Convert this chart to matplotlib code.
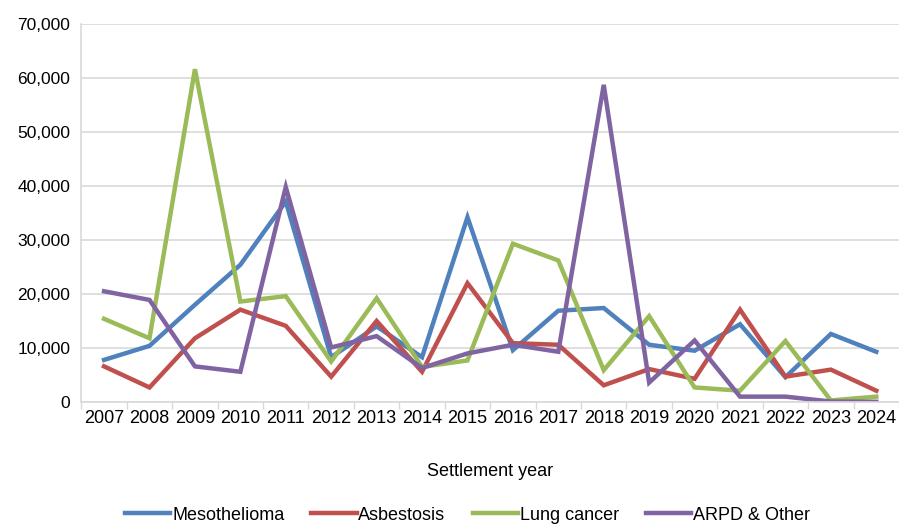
import numpy as np
import matplotlib.pyplot as plt
from matplotlib.ticker import FuncFormatter, MultipleLocator

plt.rcParams['font.family'] = ['Liberation Sans', 'DejaVu Sans']

# Settlement years and series values
years = ['2007', '2008', '2009', '2010', '2011', '2012', '2013', '2014', '2015',
         '2016', '2017', '2018', '2019', '2020', '2021', '2022', '2023', '2024']
mesothelioma = [7800, 10400, 18000, 25400, 37100, 8300, 14000, 8300, 34200,
                9600, 16900, 17400, 10600, 9500, 14400, 4600, 12600, 9300]
asbestosis = [6600, 2700, 11800, 17100, 14100, 4700, 15000, 5600, 22000,
              10900, 10600, 3100, 6100, 4300, 17100, 4700, 6000, 2100]
lung_cancer = [15400, 11800, 61600, 18600, 19600, 7500, 19200, 6500, 7700,
               29300, 26200, 5900, 15900, 2700, 2100, 11300, 300, 1000]
arpd_other = [20500, 18900, 6600, 5600, 39800, 10100, 12200, 6300, 9000,
              10600, 9300, 58700, 3600, 11400, 1000, 1000, 100, 50]

series = [
    ('Mesothelioma', mesothelioma, '#4F81BD'),
    ('Asbestosis', asbestosis, '#C0504D'),
    ('Lung cancer', lung_cancer, '#9BBB59'),
    ('ARPD & Other', arpd_other, '#8064A2'),
]

fig = plt.figure(figsize=(8.99, 5.29), dpi=100)
ax = fig.add_axes([0.0905, 0.24, 0.9095, 0.715])

x = np.arange(len(years))
for name, vals, col in series:
    ax.plot(x, vals, color=col, lw=3.2, label=name, solid_joinstyle='miter')

ax.set_xlim(-0.5, len(years) - 0.5)
ax.set_ylim(0, 70000)
ax.yaxis.set_major_locator(MultipleLocator(10000))
ax.yaxis.set_major_formatter(FuncFormatter(lambda v, p: f'{int(v):,}'))
ax.set_xticks(x)
ax.set_xticklabels(years)
ax.set_xticks(np.arange(-0.5, len(years), 1), minor=True)
ax.tick_params(axis='x', which='major', length=0, labelsize=13, pad=6)
ax.tick_params(axis='x', which='minor', length=5, color='#D9D9D9', width=1)
ax.tick_params(axis='y', length=0, labelsize=12.5, pad=8)

ax.grid(axis='y', color='#D9D9D9', lw=1.2)
ax.set_axisbelow(True)
for s in ['top', 'right']:
    ax.spines[s].set_visible(False)
for s in ['left', 'bottom']:
    ax.spines[s].set_color('#D9D9D9')
    ax.spines[s].set_linewidth(1.2)

ax.set_xlabel('Settlement year', fontsize=13, labelpad=26)

# legend sits at the very bottom edge, kept just inside the figure
fig.legend(loc='center', bbox_to_anchor=(0.52, 0.026), ncol=4, frameon=False,
           fontsize=13, handlelength=2.5, handletextpad=0.1, columnspacing=1.5)

fig.savefig('out.png', dpi=100)
